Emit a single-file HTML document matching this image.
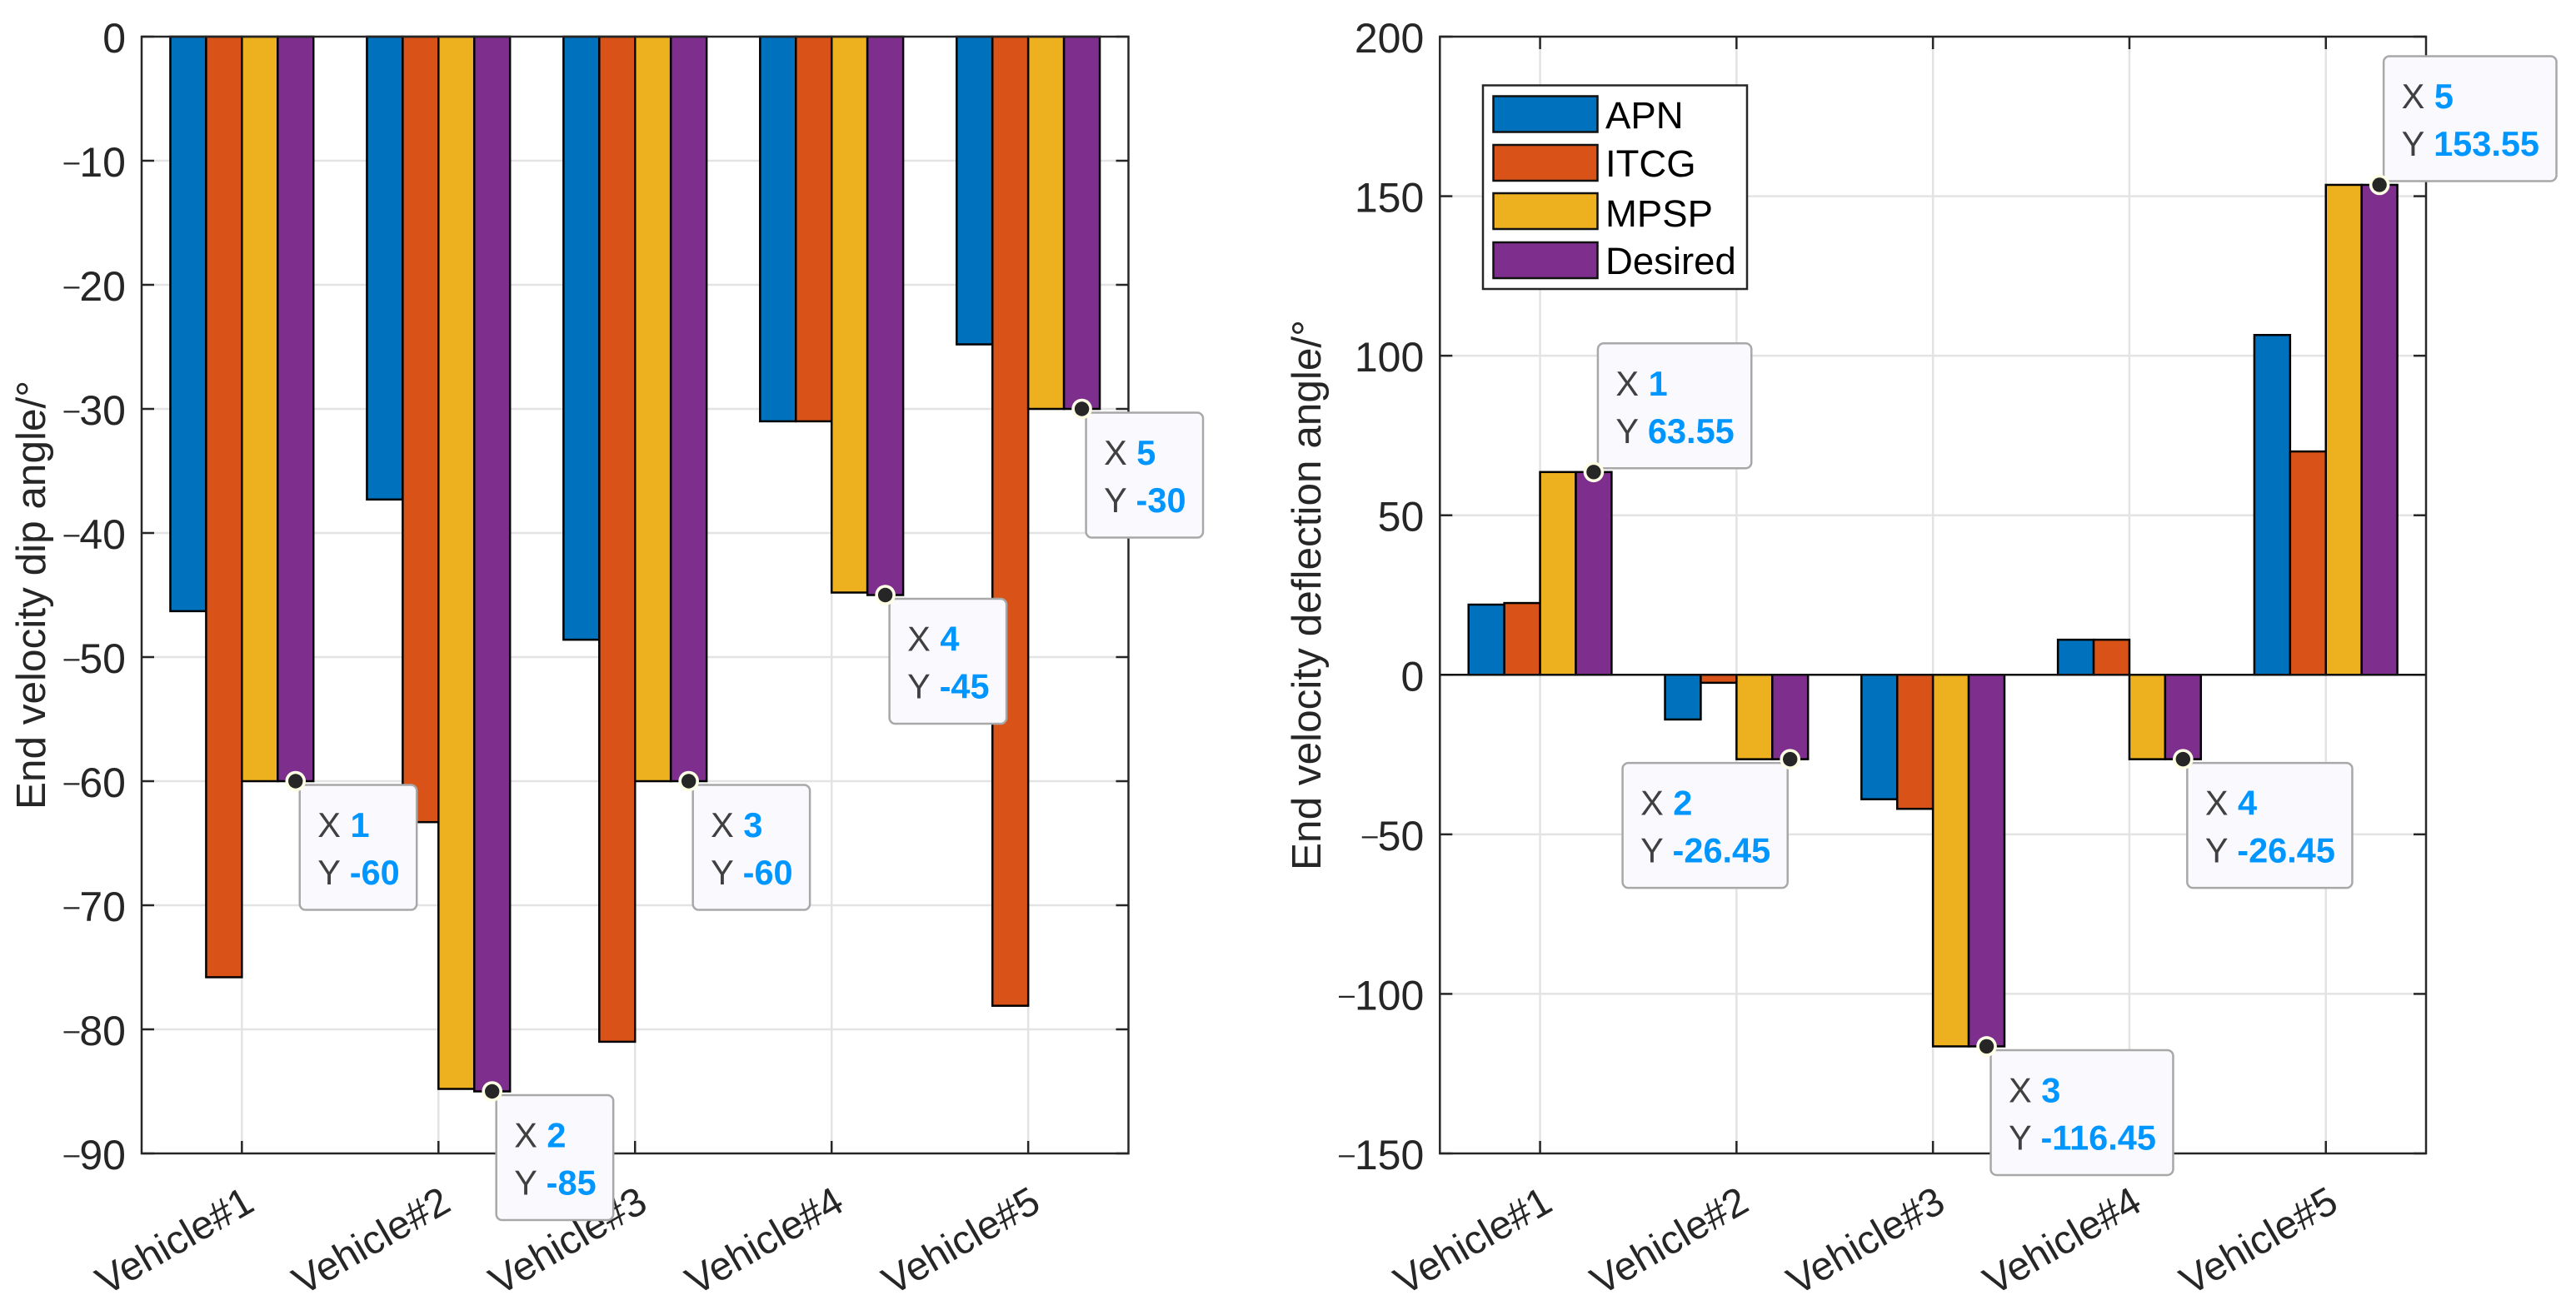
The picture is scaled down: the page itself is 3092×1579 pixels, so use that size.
<!DOCTYPE html>
<html lang="en">
<head>
<meta charset="utf-8">
<title>End velocity dip and deflection angles</title>
<style>
html,body{margin:0;padding:0;background:#fff;}
svg{display:block;font-family:"Liberation Sans",sans-serif;}
</style>
</head>
<body>
<svg id="figure" xmlns="http://www.w3.org/2000/svg" width="3092" height="1579" viewBox="0 0 3092 1579">
  <rect x="0" y="0" width="3092" height="1579" fill="#ffffff"/>
  <g id="left-chart"></g>
  <g id="right-chart"></g>
  <text transform="translate(54,714.5) rotate(-90)" text-anchor="middle" font-size="49.5" fill="#262626">End velocity dip angle/°</text>
  <text transform="translate(1585,714.5) rotate(-90)" text-anchor="middle" font-size="49.5" fill="#262626">End velocity deflection angle/°</text>
  <g id="legend">
    <rect x="1780" y="102.500" width="317" height="244.500" fill="#ffffff" stroke="#262626" stroke-width="2.500"/>
    <rect x="1792.500" y="115.500" width="125" height="43" fill="#0072BD" stroke="#111" stroke-width="2.500"/>
    <text x="1927" y="154" font-size="45.500" fill="#000">APN</text>
    <rect x="1792.500" y="174" width="125" height="43" fill="#D95319" stroke="#111" stroke-width="2.500"/>
    <text x="1927" y="212" font-size="45.500" fill="#000">ITCG</text>
    <rect x="1792.500" y="232" width="125" height="43" fill="#EDB120" stroke="#111" stroke-width="2.500"/>
    <text x="1927" y="272" font-size="45.500" fill="#000">MPSP</text>
    <rect x="1792.500" y="291" width="125" height="43" fill="#7E2F8E" stroke="#111" stroke-width="2.500"/>
    <text x="1927" y="329" font-size="45.500" fill="#000">Desired</text>
  </g>
  <g id="tips"></g>
</svg>
<script>
const categories = ['Vehicle#1', 'Vehicle#2', 'Vehicle#3', 'Vehicle#4', 'Vehicle#5'];
const seriesNames = ['APN', 'ITCG', 'MPSP', 'Desired'];
const dipApn = [-46.3, -37.3, -48.6, -31, -24.8];
const dipItcg = [-75.8, -63.3, -81, -31, -78.1];
const dipMpsp = [-60, -84.8, -60, -44.8, -30];
const dipDesired = [-60, -85, -60, -45, -30];
const dipTicks = [0, -10, -20, -30, -40, -50, -60, -70, -80, -90];
const dipTipSides = ['lower-right', 'lower-right', 'lower-right', 'lower-right', 'lower-right'];
const deflectionApn = [22, -14, -39, 11, 106.5];
const deflectionItcg = [22.5, -2.5, -42, 11, 70];
const deflectionMpsp = [63.55, -26.45, -116.45, -26.45, 153.55];
const deflectionDesired = [63.55, -26.45, -116.45, -26.45, 153.55];
const deflectionTicks = [200, 150, 100, 50, 0, -50, -100, -150];
const deflectionTipSides = ['upper-right', 'lower-left', 'lower-right', 'lower-right', 'upper-right'];

const SVG_NS = 'http://www.w3.org/2000/svg';
const COLORS = ['#0072BD', '#D95319', '#EDB120', '#7E2F8E'];
const AXIS_TOP = 44;
const AXIS_BOTTOM = 1385;
const X_MIN = 0.49;
const X_MAX = 5.51;
const TEXT_COLOR = '#262626';

function make(parent, tag, props) {
  const el = document.createElementNS(SVG_NS, tag);
  Object.keys(props).forEach(function (k) { el.setAttribute(k, props[k]); });
  parent.appendChild(el);
  return el;
}

function drawChart(group, tipGroup, cfg) {
  const slug = cfg.slug;
  const xScale = function (v) { return cfg.left + (v - X_MIN) * (cfg.right - cfg.left) / (X_MAX - X_MIN); };
  const yScale = function (v) { return AXIS_TOP + (cfg.yMax - v) * (AXIS_BOTTOM - AXIS_TOP) / (cfg.yMax - cfg.yMin); };
  const barWidth = 0.182;

  const gridLayer = make(group, 'g', {});
  
  
  cfg.ticks.forEach(function (t) {
    const y = yScale(t);
    if (t !== cfg.yMax && t !== cfg.yMin) {
      const g = make(gridLayer, 'line', { x1: cfg.left, x2: cfg.right, y1: y, y2: y, stroke: '#E3E3E3', 'stroke-width': 2.5 });
      
      
    }
    const l = make(group, 'line', { x1: cfg.left, x2: cfg.left + 15, y1: y, y2: y, stroke: TEXT_COLOR, 'stroke-width': 2.5 });
    
    
    const r = make(group, 'line', { x1: cfg.right - 15, x2: cfg.right, y1: y, y2: y, stroke: TEXT_COLOR, 'stroke-width': 2.5 });
    
    
    const label = make(group, 'text', { x: cfg.left - 19, y: y + 19, 'text-anchor': 'end', 'font-size': 50, fill: TEXT_COLOR });
    
    
    if (t < 0) {
      const dash = make(label, 'tspan', { 'font-size': 34, dy: -7 });
      
      
      dash.textContent = '\u2013';
      const digits = make(label, 'tspan', { dy: 7 });
      
      
      digits.textContent = String(Math.abs(t));
    } else {
      label.textContent = String(t);
    }
  });

  categories.forEach(function (name, i) {
    const x = xScale(i + 1);
    const g = make(gridLayer, 'line', { x1: x, x2: x, y1: AXIS_TOP, y2: AXIS_BOTTOM, stroke: '#E3E3E3', 'stroke-width': 2.5 });
    
    
    const b = make(group, 'line', { x1: x, x2: x, y1: AXIS_BOTTOM - 15, y2: AXIS_BOTTOM, stroke: TEXT_COLOR, 'stroke-width': 2.5 });
    
    
    const t = make(group, 'line', { x1: x, x2: x, y1: AXIS_TOP, y2: AXIS_TOP + 15, stroke: TEXT_COLOR, 'stroke-width': 2.5 });
    
    
    const label = make(group, 'text', {
      transform: 'translate(' + (x + 17.5) + ',' + (AXIS_BOTTOM + 67) + ') rotate(-30)',
      'text-anchor': 'end', 'font-size': 48, fill: TEXT_COLOR
    });
    
    
    label.textContent = name;
  });

  cfg.series.forEach(function (values, s) {
    const seriesGroup = make(group, 'g', { fill: COLORS[s], stroke: '#000', 'stroke-width': 2.5 });
    
    
    values.forEach(function (v, i) {
      const x0 = xScale(i + 1 + (s - 2) * barWidth);
      const x1 = xScale(i + 1 + (s - 1) * barWidth);
      const y0 = yScale(0);
      const y1 = yScale(v);
      const bar = make(seriesGroup, 'rect', { x: x0, width: x1 - x0, y: Math.min(y0, y1), height: Math.abs(y1 - y0) });
      
      
    });
  });

  if (cfg.yMax > 0) {
    const base = make(group, 'line', { x1: cfg.left, x2: cfg.right, y1: yScale(0), y2: yScale(0), stroke: '#111', 'stroke-width': 2.5 });
    
    
  }

  const frame = make(group, 'rect', { x: cfg.left, y: AXIS_TOP, width: cfg.right - cfg.left, height: AXIS_BOTTOM - AXIS_TOP, fill: 'none', stroke: TEXT_COLOR, 'stroke-width': 2.5 });
  
  

  const desired = cfg.series[3];
  desired.forEach(function (v, i) {
    const ax = xScale(i + 1 + 1.5 * barWidth);
    const ay = yScale(v);
    const tip = make(tipGroup, 'g', {});
    
    

    const box = make(tip, 'rect', { height: 150, rx: 7, ry: 7, fill: '#FAFAFE', stroke: '#A8A8A8', 'stroke-width': 2.5 });
    
    

    const xLine = make(tip, 'text', { 'font-size': 41.5, fill: '#404040' });
    
    
    xLine.appendChild(document.createTextNode('X '));
    const xVal = make(xLine, 'tspan', { fill: '#0096FF', 'font-weight': 'bold' });
    
    
    xVal.textContent = String(i + 1);

    const yLine = make(tip, 'text', { 'font-size': 41.5, fill: '#404040' });
    
    
    yLine.appendChild(document.createTextNode('Y '));
    const yVal = make(yLine, 'tspan', { fill: '#0096FF', 'font-weight': 'bold' });
    
    
    yVal.textContent = String(v);

    const w = Math.max(xLine.getComputedTextLength(), yLine.getComputedTextLength()) + 42;
    const side = cfg.tipSides[i];
    const bx = side.indexOf('left') >= 0 ? ax - 3 - w : ax + 5;
    const by = side.indexOf('upper') >= 0 ? ay - 4.5 - 150 : ay + 4.5;
    box.setAttribute('x', bx);
    box.setAttribute('y', by);
    box.setAttribute('width', w);
    xLine.setAttribute('x', bx + 21.5);
    xLine.setAttribute('y', by + 62.5);
    yLine.setAttribute('x', bx + 21.5);
    yLine.setAttribute('y', by + 119.5);

    const halo = make(tip, 'circle', { cx: ax, cy: ay, r: 12.3, fill: '#FFFFE6' });
    
    
    const dot = make(tip, 'circle', { cx: ax, cy: ay, r: 8.7, fill: '#262626' });
    
    
  });
}

const tipsLayer = document.getElementById('tips');
drawChart(document.getElementById('left-chart'), tipsLayer, {
  slug: 'dip',
  left: 170,
  right: 1354.5,
  yMax: 0,
  yMin: -90,
  ticks: dipTicks,
  tipSides: dipTipSides,
  series: [dipApn, dipItcg, dipMpsp, dipDesired]
});
drawChart(document.getElementById('right-chart'), tipsLayer, {
  slug: 'deflection',
  left: 1728.3,
  right: 2912,
  yMax: 200,
  yMin: -150,
  ticks: deflectionTicks,
  tipSides: deflectionTipSides,
  series: [deflectionApn, deflectionItcg, deflectionMpsp, deflectionDesired]
});
</script>
</body>
</html>
